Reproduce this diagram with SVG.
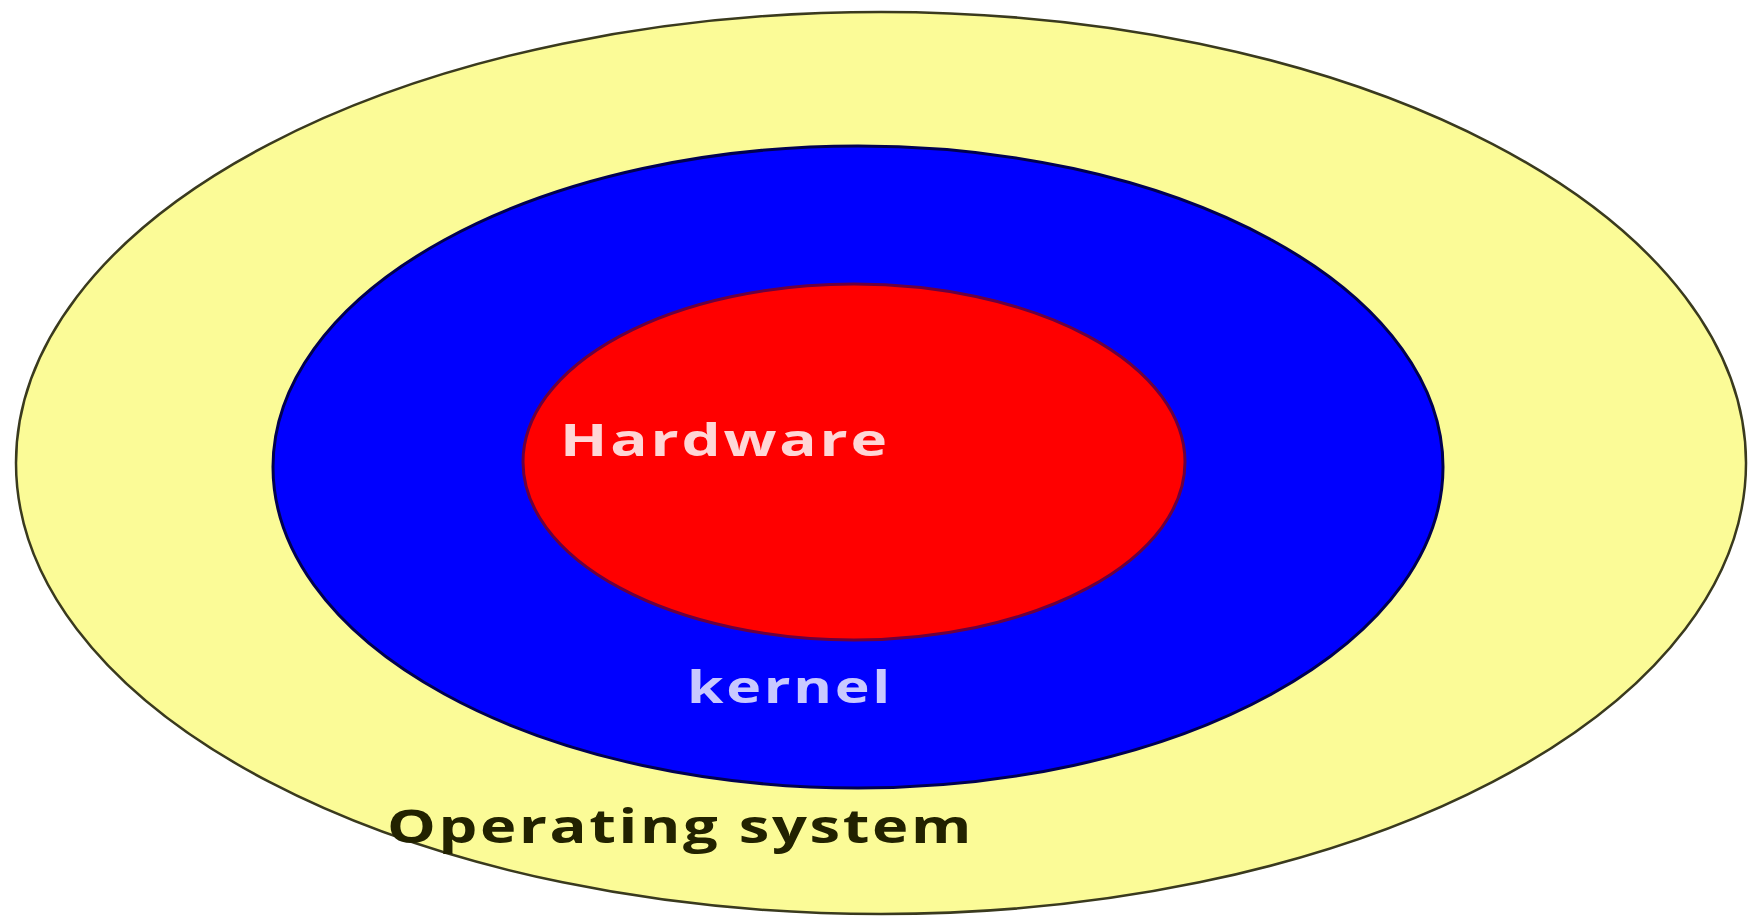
<svg xmlns="http://www.w3.org/2000/svg" width="1750" height="920" viewBox="0 0 1750 920">
  <style>
    .layer-label { font-family: "Open Sans", "Liberation Sans", sans-serif; font-weight: bold; letter-spacing: 2px; }
  </style>
  <rect x="0" y="0" width="1750" height="920" fill="#ffffff"/>

  <!-- outermost ring: operating system -->
  <g id="operating-system">
    <ellipse cx="881" cy="463" rx="865" ry="451" fill="#fbfb97" stroke="#3a3a1e" stroke-width="2.5"/>
    <text class="layer-label" x="387" y="843" font-size="47" fill="#222200" textLength="587" lengthAdjust="spacingAndGlyphs">Operating system</text>
  </g>

  <!-- middle ring: kernel -->
  <g id="kernel">
    <ellipse cx="858" cy="467" rx="585" ry="321" fill="#0000ff" stroke="#000050" stroke-width="3"/>
    <text class="layer-label" x="687" y="703" font-size="44" fill="#c8c8ff" textLength="206" lengthAdjust="spacingAndGlyphs">kernel</text>
  </g>

  <!-- core: hardware -->
  <g id="hardware">
    <ellipse cx="854" cy="462" rx="331" ry="178" fill="#ff0000" stroke="#6a0040" stroke-width="3"/>
    <text class="layer-label" x="560" y="456" font-size="44" fill="#ffd6d6" textLength="330" lengthAdjust="spacingAndGlyphs">Hardware</text>
  </g>
</svg>
